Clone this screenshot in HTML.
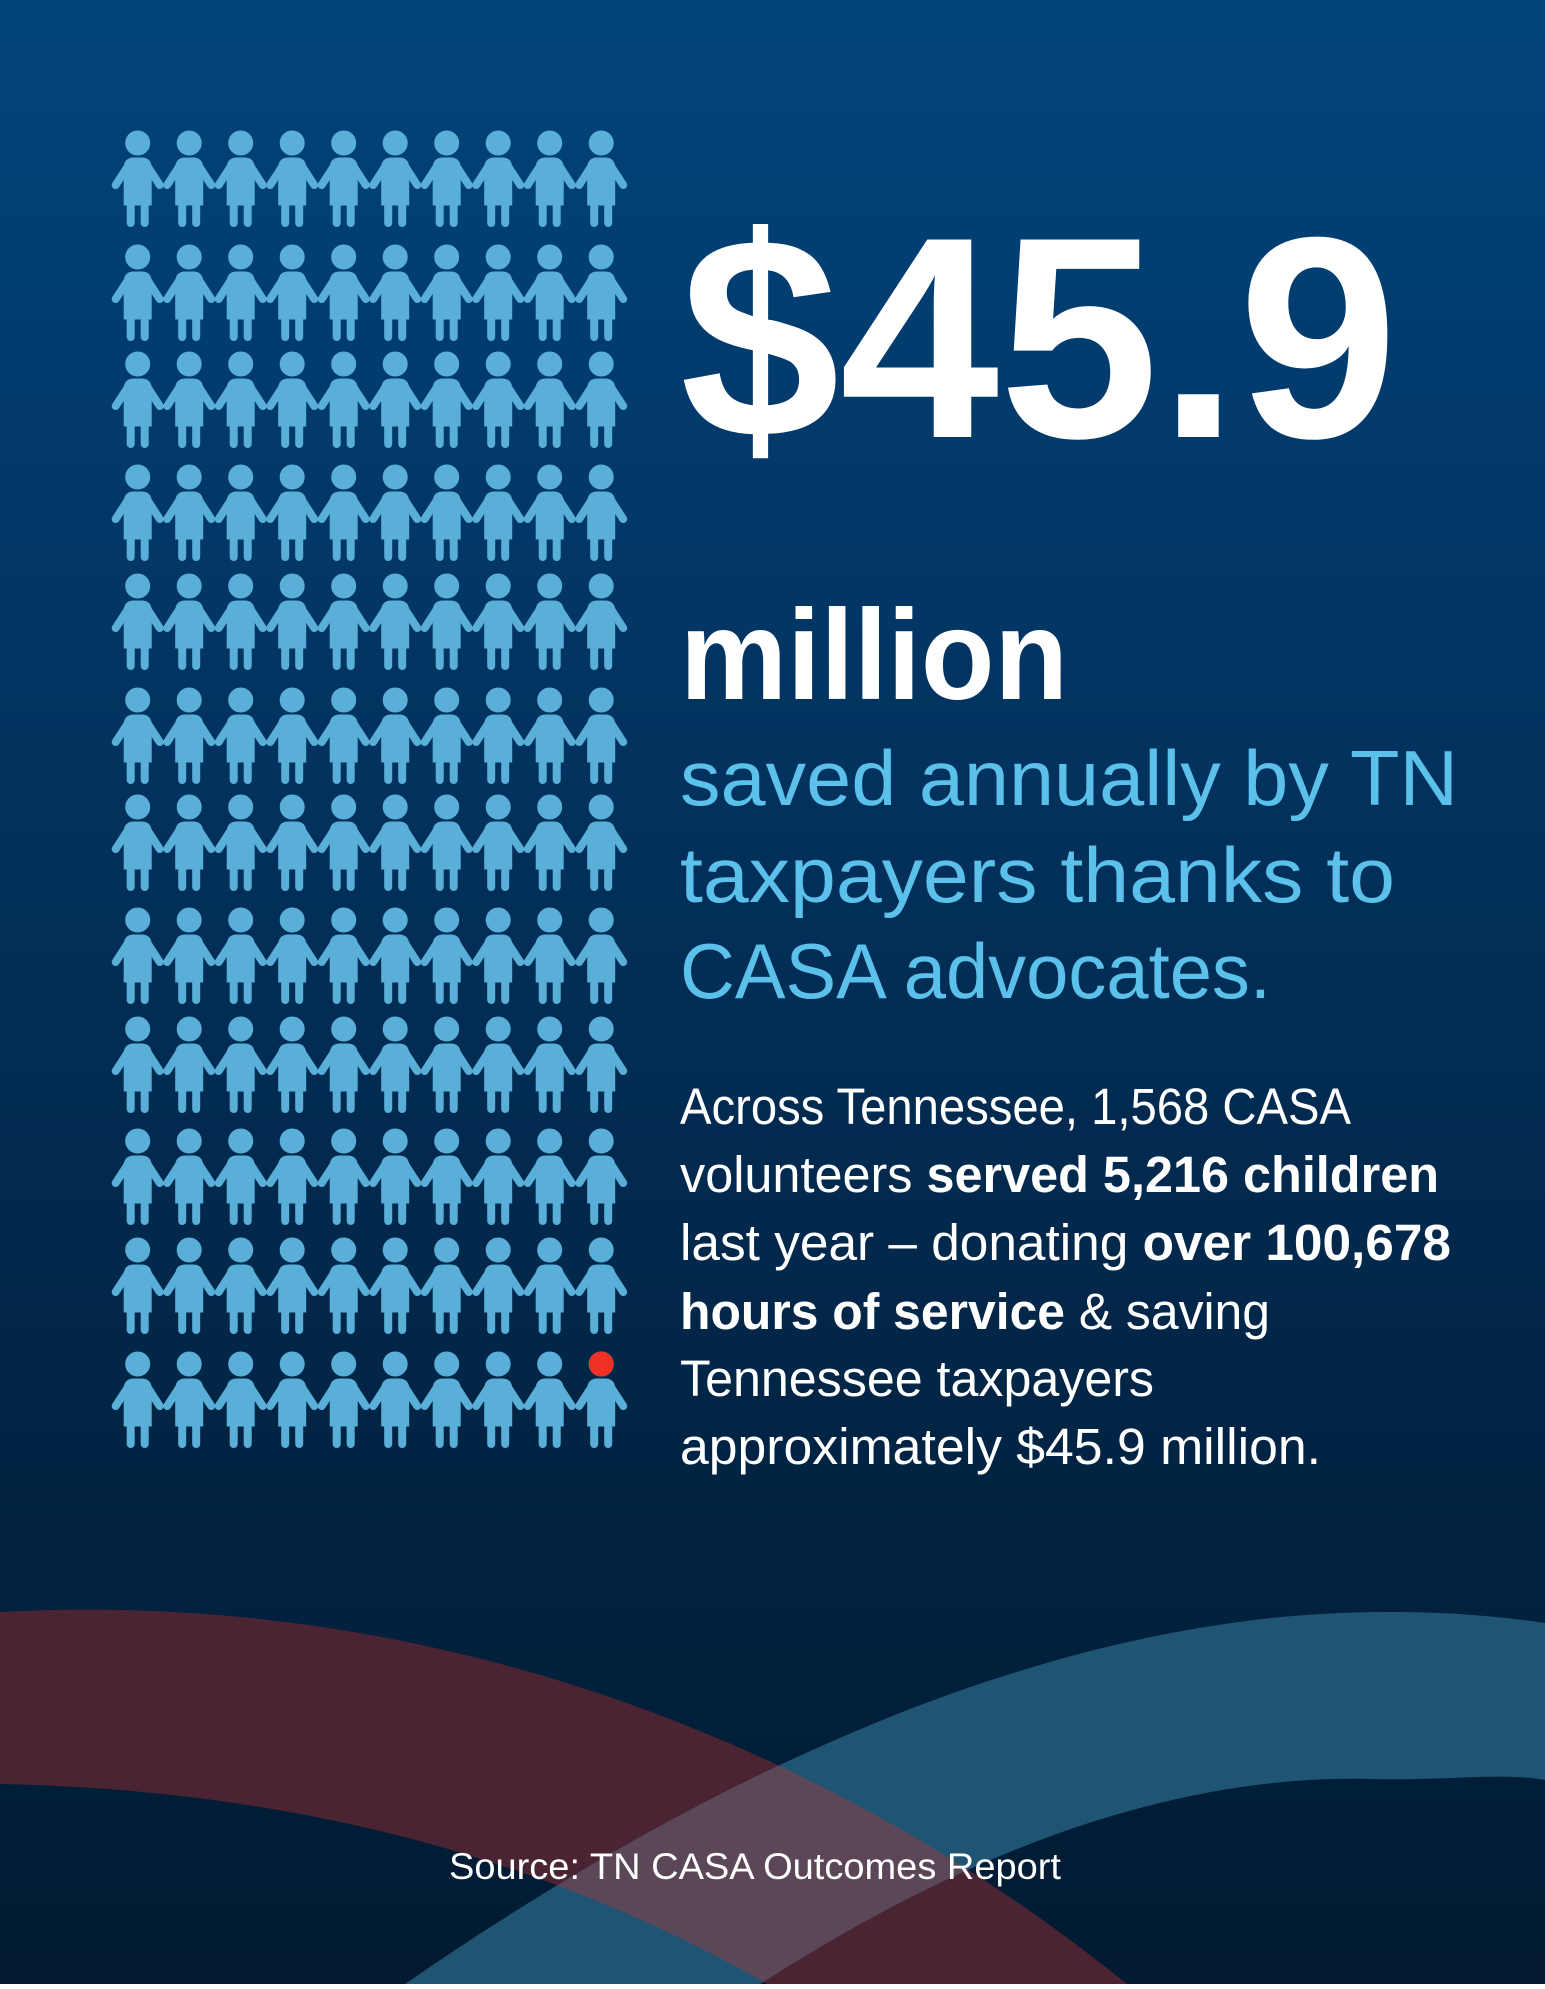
<!DOCTYPE html>
<html><head><meta charset="utf-8">
<style>
html,body{margin:0;padding:0;}
body{width:1545px;height:1984px;overflow:hidden;}
</style></head>
<body>
<svg width="1545" height="1984" viewBox="0 0 1545 1984" xmlns="http://www.w3.org/2000/svg">
<defs>
<linearGradient id="bg" x1="0" y1="0" x2="0" y2="1">
<stop offset="0" stop-color="#01447c"/>
<stop offset="0.5" stop-color="#022d55"/>
<stop offset="1" stop-color="#011a30"/>
</linearGradient>
<g id="p">
<circle cx="0" cy="0" r="12"/>
<path d="M-13.5,62 L-13.5,25 Q-13.5,15 -3.5,15 L3.5,15 Q13.5,15 13.5,25 L13.5,62 Z"/>
<line x1="-9" y1="22" x2="-22" y2="42" stroke-width="8" stroke-linecap="round"/>
<line x1="9" y1="22" x2="22" y2="42" stroke-width="8" stroke-linecap="round"/>
<line x1="-7" y1="55" x2="-7" y2="80" stroke-width="8" stroke-linecap="round"/>
<line x1="7" y1="55" x2="7" y2="80" stroke-width="8" stroke-linecap="round"/>
</g>
<g id="row">
<use href="#p" x="137.7" y="0"/><use href="#p" x="189.2" y="0"/><use href="#p" x="240.7" y="0"/><use href="#p" x="292.2" y="0"/><use href="#p" x="343.7" y="0"/><use href="#p" x="395.2" y="0"/><use href="#p" x="446.7" y="0"/><use href="#p" x="498.2" y="0"/><use href="#p" x="549.7" y="0"/><use href="#p" x="601.2" y="0"/>
</g>
<clipPath id="redclip"><path d="M0,1612 C400,1590 800,1720 1127,1984 L767,1984 C550,1860 300,1790 0,1784 Z"/></clipPath>
</defs>
<rect width="1545" height="1984" fill="url(#bg)"/>

<path d="M0,1612 C400,1590 800,1720 1127,1984 L767,1984 C550,1860 300,1790 0,1784 Z" fill="#4a2432"/>
<path d="M405,1984 C700,1780 1050,1610 1390,1612 C1460,1612 1510,1618 1545,1623 L1545,1780 C1500,1772 1450,1781 1370,1779 C1200,1775 1000,1830 760,1984 Z" fill="#1f5473"/>
<path d="M405,1984 C700,1780 1050,1610 1390,1612 C1460,1612 1510,1618 1545,1623 L1545,1780 C1500,1772 1450,1781 1370,1779 C1200,1775 1000,1830 760,1984 Z" fill="#5c4759" clip-path="url(#redclip)"/>

<g fill="#5aafd9" stroke="#5aafd9">
<use href="#row" y="143"/><use href="#row" y="257"/><use href="#row" y="364"/><use href="#row" y="477"/><use href="#row" y="586"/><use href="#row" y="700"/><use href="#row" y="807"/><use href="#row" y="920"/><use href="#row" y="1029"/><use href="#row" y="1141"/><use href="#row" y="1250"/><use href="#row" y="1364"/>
</g>
<circle cx="601.2" cy="1364" r="12.5" fill="#ee3124"/>

<g font-family="Liberation Sans, sans-serif">
<text x="680" y="437" font-size="287" font-weight="bold" fill="#fff" textLength="718" lengthAdjust="spacingAndGlyphs">$45.9</text>
<text x="680" y="699" font-size="128" font-weight="bold" fill="#fff" textLength="388" lengthAdjust="spacingAndGlyphs">million</text>
<g fill="#5bc0ea" font-size="78">
<text x="680" y="805" textLength="778" lengthAdjust="spacingAndGlyphs">saved annually by TN</text>
<text x="680" y="902" textLength="715" lengthAdjust="spacingAndGlyphs">taxpayers thanks to</text>
<text x="680" y="998" textLength="591" lengthAdjust="spacingAndGlyphs">CASA advocates.</text>
</g>
<g fill="#fff" font-size="51">
<text x="680" y="1124" textLength="671" lengthAdjust="spacingAndGlyphs">Across Tennessee, 1,568 CASA</text>
<text x="680" y="1192" textLength="759" lengthAdjust="spacingAndGlyphs">volunteers <tspan font-weight="bold">served 5,216 children</tspan></text>
<text x="680" y="1260" textLength="771" lengthAdjust="spacingAndGlyphs">last year – donating <tspan font-weight="bold">over 100,678</tspan></text>
<text x="680" y="1329" textLength="590" lengthAdjust="spacingAndGlyphs"><tspan font-weight="bold">hours of service</tspan> &amp; saving</text>
<text x="680" y="1396" textLength="474" lengthAdjust="spacingAndGlyphs">Tennessee taxpayers</text>
<text x="680" y="1464" textLength="641" lengthAdjust="spacingAndGlyphs">approximately $45.9 million.</text>
</g>
<text x="449" y="1879" font-size="37" fill="#fff" textLength="612" lengthAdjust="spacingAndGlyphs">Source: TN CASA Outcomes Report</text>
</g>
</svg>
</body></html>
